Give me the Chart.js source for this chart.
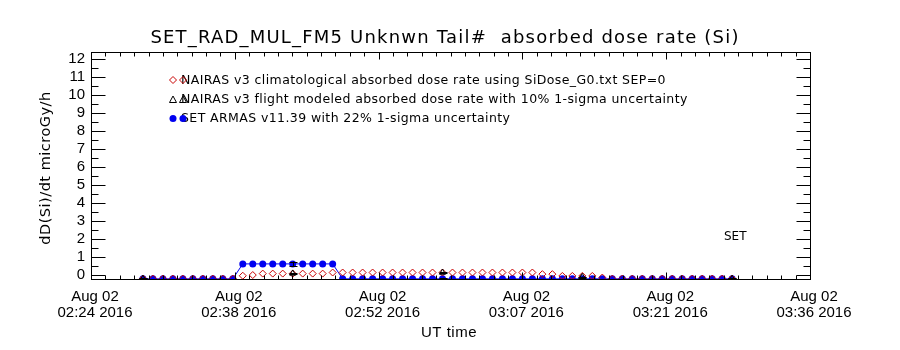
<!DOCTYPE html>
<html>
<head>
<meta charset="utf-8">
<script src="https://cdn.jsdelivr.net/npm/chart.js@4.4.1/dist/chart.umd.min.js"></script>
<style>
  html, body { margin: 0; padding: 0; background: #fff; }
  canvas { display: block; }
</style>
</head>
<body>
<canvas id="dose" width="900" height="350"></canvas>
<script>
// One-minute samples along the flight (UT)
const sampleTimes = [
  '02:29:12','02:30:12','02:31:12','02:32:12','02:33:12','02:34:12','02:35:12','02:36:12','02:37:12','02:38:12',
  '02:39:12','02:40:12','02:41:12','02:42:12','02:43:12','02:44:12','02:45:12','02:46:12','02:47:12','02:48:12',
  '02:49:12','02:50:12','02:51:12','02:52:12','02:53:12','02:54:12','02:55:12','02:56:12','02:57:12','02:58:12',
  '02:59:12','03:00:12','03:01:12','03:02:12','03:03:12','03:04:12','03:05:12','03:06:12','03:07:12','03:08:12',
  '03:09:12','03:10:12','03:11:12','03:12:12','03:13:12','03:14:12','03:15:12','03:16:12','03:17:12','03:18:12',
  '03:19:12','03:20:12','03:21:12','03:22:12','03:23:12','03:24:12','03:25:12','03:26:12','03:27:12','03:28:12'
];

// NAIRAS v3 climatological absorbed dose rate (microGy/h)
const climDose = [
  -0.23,-0.23,-0.23,-0.23,-0.23,-0.23,-0.23,-0.23,-0.23,-0.23,
  -0.07,-0.03, 0.05, 0.05, 0.05, 0.05, 0.05, 0.05, 0.05, 0.11,
   0.11, 0.11, 0.11, 0.11, 0.11, 0.11, 0.11, 0.11, 0.11, 0.11,
   0.11, 0.11, 0.11, 0.11, 0.11, 0.11, 0.11, 0.11, 0.11, 0.11,
   0.02, 0.02,-0.08,-0.08,-0.08,-0.08,-0.17,-0.23,-0.23,-0.23,
  -0.23,-0.23,-0.23,-0.23,-0.23,-0.23,-0.23,-0.23,-0.23,-0.23
];

// SET ARMAS v11.39 measured absorbed dose rate (microGy/h)
const armasDose = [
  -0.24,-0.24,-0.24,-0.24,-0.24,-0.24,-0.24,-0.24,-0.24,-0.24,
   0.59, 0.59, 0.59, 0.59, 0.59, 0.59, 0.59, 0.59, 0.59, 0.59,
  -0.24,-0.24,-0.24,-0.24,-0.24,-0.24,-0.24,-0.24,-0.24,-0.24,
  -0.24,-0.24,-0.24,-0.24,-0.24,-0.24,-0.24,-0.24,-0.24,-0.24,
  -0.24,-0.24,-0.24,-0.24,-0.24,-0.24,-0.24,-0.24,-0.24,-0.24,
  -0.24,-0.24,-0.24,-0.24,-0.24,-0.24,-0.24,-0.24,-0.24,-0.24
];

// NAIRAS v3 flight modeled absorbed dose rate (microGy/h)
const flightTimes = ['02:29:12','02:44:12','02:59:12','03:13:12','03:28:12'];
const flightDose  = [-0.23, 0.06, 0.11, -0.13, -0.23];

// 1-sigma uncertainties
const flightSigma = 0.10;
const armasSigma  = 0.22;

// Axes
const axisStart = '02:24:00';
const axisEnd   = '03:36:00';
const tickTimes = ['02:24:00','02:38:24','02:52:48','03:07:12','03:21:36','03:36:00'];
const tickDates = ['Aug 02','Aug 02','Aug 02','Aug 02','Aug 02','Aug 02'];
const tickClock = ['02:24 2016','02:38 2016','02:52 2016','03:07 2016','03:21 2016','03:36 2016'];
const yTicks = [0,1,2,3,4,5,6,7,8,9,10,11,12];
const yMin = -0.25, yMax = 12.37;

const seriesNames = [
  'NAIRAS v3 climatological absorbed dose rate using SiDose_G0.txt SEP=0',
  'NAIRAS v3 flight modeled absorbed dose rate with 10% 1-sigma uncertainty',
  'SET ARMAS v11.39 with 22% 1-sigma uncertainty'
];

const FONT = '"Liberation Sans", Arial, sans-serif';
const WIDE = '"DejaVu Sans", sans-serif';
const RED = '#c80000';
const BLUE = '#0000f0';

function toMin(t) {
  const p = t.split(':').map(Number);
  return p[0] * 60 + p[1] + (p[2] || 0) / 60;
}

const climPts   = sampleTimes.map((t, i) => ({ x: toMin(t), y: climDose[i] }));
const armasPts  = sampleTimes.map((t, i) => ({ x: toMin(t), y: armasDose[i] }));
const flightPts = flightTimes.map((t, i) => ({ x: toMin(t), y: flightDose[i] }));

// Error bars: model at its own samples, measurement at the same times
const errorBars = [];
flightTimes.forEach((t, i) => {
  const v = flightDose[i];
  errorBars.push({ x: toMin(t), lo: v - Math.abs(v) * flightSigma, hi: v + Math.abs(v) * flightSigma });
  const k = sampleTimes.indexOf(t);
  const a = armasDose[k];
  errorBars.push({ x: toMin(t), lo: a - Math.abs(a) * armasSigma, hi: a + Math.abs(a) * armasSigma });
});

// Frame with inward ticks on all four sides plus error bars
const framePlugin = {
  id: 'frame',
  afterDatasetsDraw(chart) {
    const { ctx, chartArea: a, scales: { x, y } } = chart;
    ctx.save();
    ctx.beginPath();
    ctx.rect(a.left, a.top, a.right - a.left, a.bottom - a.top);
    ctx.clip();
    ctx.strokeStyle = '#000';
    ctx.lineWidth = 1;
    errorBars.forEach(e => {
      const px = Math.round(x.getPixelForValue(e.x)) + 0.5;
      const y1 = y.getPixelForValue(e.lo), y2 = y.getPixelForValue(e.hi);
      ctx.beginPath();
      ctx.moveTo(px, y1); ctx.lineTo(px, y2);
      ctx.moveTo(px - 4, Math.round(y1) + 0.5); ctx.lineTo(px + 4, Math.round(y1) + 0.5);
      ctx.moveTo(px - 4, Math.round(y2) + 0.5); ctx.lineTo(px + 4, Math.round(y2) + 0.5);
      ctx.stroke();
    });
    ctx.restore();

    ctx.save();
    ctx.strokeStyle = '#000';
    ctx.lineWidth = 1;
    const L = Math.round(a.left) + 0.5, R = Math.round(a.right) + 0.5;
    const T = Math.round(a.top) + 0.5, B = Math.round(a.bottom) + 0.5;
    ctx.strokeRect(L, T, R - L, B - T);
    ctx.beginPath();
    // y ticks: majors at each integer, minors halfway
    yTicks.forEach((v, i) => {
      const py = Math.round(y.getPixelForValue(v)) + 0.5;
      ctx.moveTo(L, py); ctx.lineTo(L + 14, py);
      ctx.moveTo(R, py); ctx.lineTo(R - 14, py);
      if (i < yTicks.length - 1) {
        const pm = Math.round(y.getPixelForValue((v + yTicks[i + 1]) / 2)) + 0.5;
        ctx.moveTo(L, pm); ctx.lineTo(L + 7, pm);
        ctx.moveTo(R, pm); ctx.lineTo(R - 7, pm);
      }
    });
    // x ticks: majors at labels, ten minors per interval
    tickTimes.forEach((t, i) => {
      const v = toMin(t);
      const px = Math.round(x.getPixelForValue(v)) + 0.5;
      ctx.moveTo(px, B); ctx.lineTo(px, B - 7);
      ctx.moveTo(px, T); ctx.lineTo(px, T + 7);
      if (i < tickTimes.length - 1) {
        const step = (toMin(tickTimes[i + 1]) - v) / 10;
        for (let k = 1; k < 10; k++) {
          const pm = Math.round(x.getPixelForValue(v + k * step)) + 0.5;
          ctx.moveTo(pm, B); ctx.lineTo(pm, B - 4);
          ctx.moveTo(pm, T); ctx.lineTo(pm, T + 4);
        }
      }
    });
    ctx.stroke();
    ctx.restore();
  }
};

function drawMarker(ctx, kind, cx, cy) {
  ctx.beginPath();
  if (kind === 'diamond') {
    ctx.strokeStyle = RED;
    ctx.moveTo(cx, cy - 3.5); ctx.lineTo(cx + 3.5, cy); ctx.lineTo(cx, cy + 3.5); ctx.lineTo(cx - 3.5, cy); ctx.closePath();
    ctx.stroke();
  } else if (kind === 'triangle') {
    ctx.strokeStyle = '#000';
    ctx.moveTo(cx, cy - 3.5); ctx.lineTo(cx + 3.5, cy + 3); ctx.lineTo(cx - 3.5, cy + 3); ctx.closePath();
    ctx.stroke();
  } else {
    ctx.fillStyle = BLUE;
    ctx.arc(cx, cy, 3.5, 0, Math.PI * 2);
    ctx.fill();
  }
}

function spacedText(ctx, text, x, y, spacing) {
  if ('letterSpacing' in ctx) {
    ctx.letterSpacing = spacing + 'px';
    ctx.fillText(text, x, y);
    ctx.letterSpacing = '0px';
  } else {
    ctx.fillText(text, x, y);
  }
}

// Title, axis titles, in-plot legend and instrument tag
const textPlugin = {
  id: 'texts',
  afterDraw(chart) {
    const { ctx } = chart;
    ctx.save();
    ctx.fillStyle = '#000';
    ctx.textBaseline = 'middle';
    ctx.textAlign = 'center';
    ctx.font = '18px ' + WIDE;
    spacedText(ctx, 'SET_RAD_MUL_FM5 Unknwn Tail#  absorbed dose rate (Si)', 445, 38, 1.2);
    ctx.font = '15px ' + FONT;
    spacedText(ctx, 'UT time', 449, 333, 0.5);
    ctx.save();
    ctx.translate(46, 168);
    ctx.rotate(-Math.PI / 2);
    ctx.font = '14.5px ' + WIDE;
    spacedText(ctx, 'dD(Si)/dt microGy/h', 0, 0, 0.5);
    ctx.restore();

    ctx.textAlign = 'left';
    ctx.font = '12.5px ' + WIDE;
    const kinds = ['diamond', 'triangle', 'dot'];
    const rows = [80, 99.5, 118.5];
    ctx.lineWidth = 1;
    seriesNames.forEach((name, i) => {
      drawMarker(ctx, kinds[i], 173, rows[i]);
      ctx.fillStyle = '#000';
      spacedText(ctx, name, 181, rows[i] + 0.5, 0.4);
      drawMarker(ctx, kinds[i], 183, rows[i]);
    });
    ctx.fillStyle = '#000';
    ctx.font = '12px ' + WIDE;
    ctx.fillText('SET', 724, 237);
    ctx.restore();
  }
};

new Chart(document.getElementById('dose'), {
  type: 'line',
  data: {
    datasets: [
      {
        label: seriesNames[0], data: climPts, showLine: false, order: 2,
        pointStyle: 'rectRot', pointRadius: 3.5, borderColor: RED, backgroundColor: 'rgba(0,0,0,0)',
        pointBorderWidth: 1, borderWidth: 1
      },
      {
        label: seriesNames[1], data: flightPts, showLine: false, order: 1,
        pointStyle: 'triangle', pointRadius: 3.5, borderColor: '#000', backgroundColor: 'rgba(0,0,0,0)',
        pointBorderWidth: 1, borderWidth: 1
      },
      {
        label: seriesNames[2], data: armasPts, order: 3,
        borderColor: BLUE, backgroundColor: BLUE, borderWidth: 1,
        pointStyle: 'circle', pointRadius: 3.5, pointBorderWidth: 0, tension: 0
      }
    ]
  },
  options: {
    responsive: false,
    animation: false,
    devicePixelRatio: 1,
    layout: { padding: { top: 52, right: 90, left: 0, bottom: 0 } },
    plugins: { legend: { display: false }, tooltip: { enabled: false }, title: { display: false } },
    scales: {
      x: {
        type: 'linear',
        min: toMin(axisStart), max: toMin(axisEnd),
        afterBuildTicks: s => { s.ticks = tickTimes.map(t => ({ value: toMin(t) })); },
        afterFit: s => { s.height = 71; },
        grid: { display: false, drawTicks: false }, border: { display: false },
        ticks: {
          autoSkip: false, maxRotation: 0, minRotation: 0, padding: 10, labelOffset: 4, color: '#000',
          font: { family: FONT, size: 15, lineHeight: 1.07 },
          callback: (v, i) => [tickDates[i], tickClock[i]]
        }
      },
      y: {
        min: yMin, max: yMax,
        afterBuildTicks: s => { s.ticks = yTicks.map(v => ({ value: v })); },
        afterFit: s => { s.width = 91; },
        grid: { display: false, drawTicks: false }, border: { display: false },
        ticks: { autoSkip: false, padding: 6, color: '#000', font: { family: FONT, size: 15 }, callback: v => String(v) }
      }
    }
  },
  plugins: [framePlugin, textPlugin]
});
</script>
</body>
</html>
